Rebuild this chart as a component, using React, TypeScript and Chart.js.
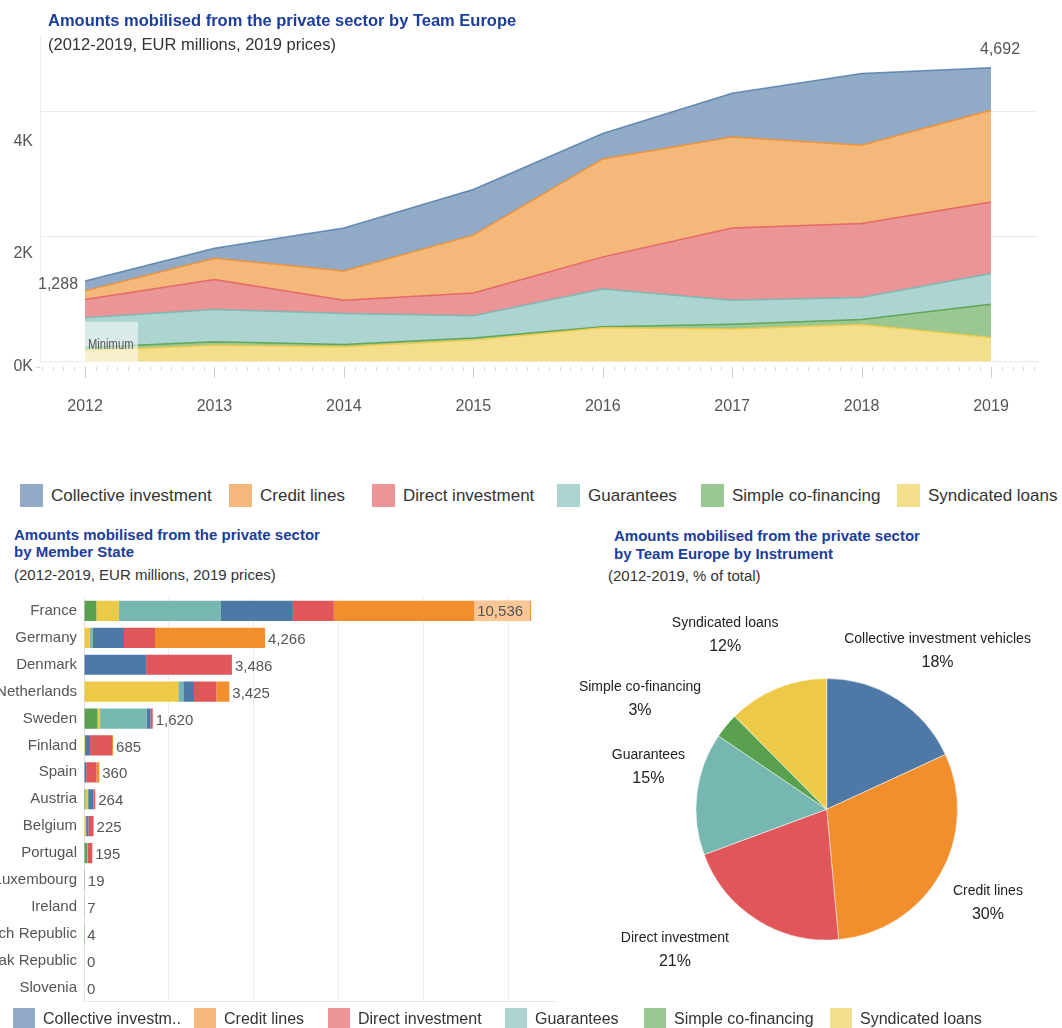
import React, { useEffect, useRef } from 'react';
import { Chart, registerables } from 'chart.js';

Chart.register(...registerables);

const FONT = '"Liberation Sans", Arial, Helvetica, sans-serif';
const TITLE_BLUE = '#1b3d9c';

// ---------- Area chart data (EUR millions) ----------
const years = [2012, 2013, 2014, 2015, 2016, 2017, 2018, 2019];
const syndicatedByYear = [175, 266, 239, 346, 542, 522, 596, 389];
const simpleByYear = [55, 53, 39, 32, 16, 79, 80, 531];
const guaranteesByYear = [472, 517, 494, 356, 602, 383, 351, 490];
const directByYear = [293, 478, 212, 366, 515, 1153, 1180, 1142];
const creditByYear = [137, 340, 467, 921, 1563, 1452, 1249, 1462];
const collectiveByYear = [156, 159, 686, 729, 405, 696, 1144, 678];
const areaYTicks = [0, 2000, 4000];

// ---------- Bar chart data (EUR millions) ----------
const countries = ['France', 'Germany', 'Denmark', 'Netherlands', 'Sweden', 'Finland', 'Spain', 'Austria', 'Belgium', 'Portugal', 'Luxembourg', 'Ireland', 'Czech Republic', 'Slovak Republic', 'Slovenia'];
const barSimple = [292, 0, 0, 0, 320, 0, 0, 35, 0, 70, 0, 7, 4, 0, 0];
const barSyndicated = [530, 143, 0, 2222, 59, 25, 0, 63, 50, 0, 0, 0, 0, 0, 0];
const barGuarantees = [2406, 67, 0, 118, 1098, 0, 0, 0, 0, 20, 0, 0, 0, 0, 0];
const barCollective = [1694, 732, 1464, 252, 93, 118, 50, 126, 59, 0, 19, 0, 0, 0, 0];
const barDirect = [966, 732, 2022, 530, 50, 517, 243, 40, 116, 105, 0, 0, 0, 0, 0];
const barCredit = [4648, 2592, 0, 303, 0, 25, 67, 0, 0, 0, 0, 0, 0, 0, 0];
const barGridTicks = [0, 2000, 4000, 6000, 8000, 10000];

// ---------- Pie chart data (% of total) ----------
const pieLabels = ['Collective investment vehicles', 'Credit lines', 'Direct investment', 'Guarantees', 'Simple co-financing', 'Syndicated loans'];
const pieShares = [18.1, 30.4, 20.8, 15.1, 3.1, 12.4];

// ---------- Legends ----------
const legendNames = ['Collective investment', 'Credit lines', 'Direct investment', 'Guarantees', 'Simple co-financing', 'Syndicated loans'];
const bottomLegendNames = ['Collective investm..', 'Credit lines', 'Direct investment', 'Guarantees', 'Simple co-financing', 'Syndicated loans'];
const legendKeys = ['collective', 'credit', 'direct', 'guarantees', 'simple', 'syndicated'];

const BASE: Record<string, string> = {
  collective: '#4E79A7', credit: '#F28E2B', direct: '#E15759',
  guarantees: '#76B7B2', simple: '#59A14F', syndicated: '#EDC948',
};
const LIGHT: Record<string, string> = {
  collective: '#91AAC7', credit: '#F5B87B', direct: '#EB9597',
  guarantees: '#ACD4D1', simple: '#9BC793', syndicated: '#F3DE8C',
};
const LINE: Record<string, string> = {
  collective: 'rgba(78,121,167,0.8)', credit: 'rgba(242,142,43,0.9)', direct: 'rgba(225,87,89,0.8)',
  guarantees: 'rgba(118,183,178,0.9)', simple: 'rgba(89,161,79,0.9)', syndicated: 'rgba(237,201,72,0.9)',
};

const fmt = (v: number) => v.toLocaleString('en-US');

function AreaChart() {
  const ref = useRef<HTMLCanvasElement>(null);
  useEffect(() => {
    const series = [
      { label: 'Syndicated loans', data: syndicatedByYear, key: 'syndicated' },
      { label: 'Simple co-financing', data: simpleByYear, key: 'simple' },
      { label: 'Guarantees', data: guaranteesByYear, key: 'guarantees' },
      { label: 'Direct investment', data: directByYear, key: 'direct' },
      { label: 'Credit lines', data: creditByYear, key: 'credit' },
      { label: 'Collective investment', data: collectiveByYear, key: 'collective' },
    ];
    const totals = years.map((_, i) => series.reduce((s, d) => s + d.data[i], 0));
    const decor = {
      id: 'areaDecor',
      afterDatasetsDraw(chart: any) {
        const { ctx, scales: { x, y } } = chart;
        ctx.save();
        const minIdx = totals.indexOf(Math.min(...totals));
        const bx = x.getPixelForValue(years[minIdx]);
        const base = y.getPixelForValue(0);
        ctx.fillStyle = 'rgba(255,255,255,0.55)';
        ctx.fillRect(bx, base - 40, 53, 40);
        ctx.save();
        ctx.translate(bx + 3, base - 17);
        ctx.scale(0.8, 1);
        ctx.font = `14px ${FONT}`;
        ctx.fillStyle = '#555';
        ctx.textBaseline = 'middle';
        ctx.textAlign = 'left';
        ctx.fillText('Minimum', 0, 0);
        ctx.restore();

        ctx.font = `16px ${FONT}`;
        ctx.fillStyle = '#555';
        ctx.textBaseline = 'middle';
        ctx.textAlign = 'right';
        ctx.fillText(fmt(totals[0]), x.getPixelForValue(years[0]) - 7, y.getPixelForValue(totals[0]) + 3);
        const last = years.length - 1;
        ctx.textAlign = 'center';
        ctx.fillText(fmt(totals[last]), x.getPixelForValue(years[last]) + 9, y.getPixelForValue(totals[last]) - 18);
        ctx.restore();
      },
      afterDraw(chart: any) {
        const { ctx, chartArea, scales: { x, y } } = chart;
        ctx.save();
        const base = y.getPixelForValue(0);
        ctx.font = `16px ${FONT}`;
        ctx.fillStyle = '#555';
        ctx.textAlign = 'right';
        ctx.textBaseline = 'middle';
        areaYTicks.forEach((v) => {
          ctx.fillText(`${v / 1000}K`, chartArea.left - 7, y.getPixelForValue(v) + 5 + v * 0.00625);
        });
        ctx.strokeStyle = '#cfcfcf';
        ctx.lineWidth = 1;
        ctx.beginPath();
        ctx.moveTo(chartArea.left - 4, base + 5.5);
        ctx.lineTo(chartArea.left, base + 5.5);
        ctx.stroke();
        const start = years[0] - 4 / 12;
        const end = years[years.length - 1] + 4 / 12 + 1e-6;
        for (let m = 0; start + m / 12 <= end; m++) {
          const v = start + m / 12;
          const px = Math.round(x.getPixelForValue(v)) + 0.5;
          const major = Math.abs(v - Math.round(v)) < 1e-6;
          ctx.strokeStyle = major ? '#cccccc' : '#d9d9d9';
          ctx.beginPath();
          ctx.moveTo(px, base + 5);
          ctx.lineTo(px, base + (major ? 16 : 9));
          ctx.stroke();
        }
        ctx.restore();
      },
    };
    const chart = new Chart(ref.current as HTMLCanvasElement, {
      type: 'line',
      data: {
        datasets: series.map((s, i) => ({
          label: s.label,
          data: years.map((yr, j) => ({ x: yr, y: s.data[j] })),
          fill: i === 0 ? 'origin' : '-1',
          backgroundColor: LIGHT[s.key],
          borderColor: LINE[s.key],
          borderWidth: 1.5,
          pointRadius: 0,
          tension: 0,
        })),
      },
      options: {
        responsive: false,
        animation: false,
        layout: { padding: { left: 40, right: 24, top: 36, bottom: 0 } },
        plugins: { legend: { display: false }, tooltip: { enabled: false } },
        scales: {
          x: {
            type: 'linear',
            min: 2011.652,
            max: 2019.363,
            afterBuildTicks: (ax: any) => { ax.ticks = years.map((v) => ({ value: v })); },
            ticks: {
              callback: (v: any) => String(v),
              font: { family: FONT, size: 16 },
              color: '#555',
              padding: 35,
              maxRotation: 0,
              autoSkip: false,
            },
            grid: { display: false, drawTicks: false },
            border: { display: false },
          },
          y: {
            stacked: true,
            min: 0,
            max: 5200,
            afterBuildTicks: (ax: any) => { ax.ticks = areaYTicks.map((v) => ({ value: v })); },
            ticks: { display: false },
            grid: { color: '#ebebeb', drawTicks: false },
            border: { display: true, color: '#eeeeee' },
          },
        },
      } as any,
      plugins: [decor],
    });
    return () => chart.destroy();
  }, []);
  return <canvas ref={ref} width={1062} height={451} style={{ position: 'absolute', left: 0, top: 0 }} />;
}

function BarChart() {
  const ref = useRef<HTMLCanvasElement>(null);
  useEffect(() => {
    const series = [
      { label: 'Simple co-financing', data: barSimple, key: 'simple' },
      { label: 'Syndicated loans', data: barSyndicated, key: 'syndicated' },
      { label: 'Guarantees', data: barGuarantees, key: 'guarantees' },
      { label: 'Collective investment', data: barCollective, key: 'collective' },
      { label: 'Direct investment', data: barDirect, key: 'direct' },
      { label: 'Credit lines', data: barCredit, key: 'credit' },
    ];
    const totals = countries.map((_, i) => series.reduce((s, d) => s + d.data[i], 0));
    const labels = {
      id: 'barLabels',
      afterDatasetsDraw(chart: any) {
        const { ctx, chartArea, scales: { x, y } } = chart;
        const lastMeta = chart.getDatasetMeta(series.length - 1);
        ctx.save();
        ctx.font = `15px ${FONT}`;
        ctx.textBaseline = 'middle';
        totals.forEach((t, i) => {
          const xe = x.getPixelForValue(t);
          const yc = y.getPixelForValue(i);
          const txt = fmt(t);
          const w = ctx.measureText(txt).width;
          if (xe + 3 + w > chartArea.right) {
            const h = lastMeta.data[i].height;
            ctx.fillStyle = '#F9C795';
            ctx.fillRect(xe - w - 11, yc - h / 2, w + 10, h);
            ctx.fillStyle = '#555';
            ctx.textAlign = 'right';
            ctx.fillText(txt, xe - 8, yc + 1);
          } else {
            ctx.fillStyle = '#555';
            ctx.textAlign = 'left';
            ctx.fillText(txt, xe + 3, yc + 2);
          }
        });
        ctx.restore();
      },
    };
    const chart = new Chart(ref.current as HTMLCanvasElement, {
      type: 'bar',
      data: {
        labels: countries,
        datasets: series.map((s) => ({
          label: s.label,
          data: s.data,
          backgroundColor: BASE[s.key],
          borderWidth: 0,
          barPercentage: 0.75,
          categoryPercentage: 1,
        })),
      },
      options: {
        indexAxis: 'y',
        responsive: false,
        animation: false,
        layout: { padding: { left: 0, right: 5, top: 7.5, bottom: 9 } },
        plugins: { legend: { display: false }, tooltip: { enabled: false } },
        scales: {
          x: {
            stacked: true,
            min: 0,
            max: 11100,
            afterBuildTicks: (ax: any) => { ax.ticks = barGridTicks.map((v) => ({ value: v })); },
            ticks: { display: false },
            grid: { color: '#ececec', drawTicks: false },
            border: { display: true, color: '#e8e8e8' },
            afterFit: (s: any) => { s.paddingLeft = 0; s.paddingRight = 0; },
          },
          y: {
            stacked: true,
            ticks: { font: { family: FONT, size: 15 }, color: '#555', padding: 7, autoSkip: false },
            grid: { display: false, drawTicks: false },
            border: { display: true, color: '#e0e0e0' },
            afterFit: (s: any) => { s.width = 84; s.paddingTop = 0; s.paddingBottom = 0; },
          },
        },
      } as any,
      plugins: [labels],
    });
    return () => chart.destroy();
  }, []);
  return <canvas ref={ref} width={560} height={420} style={{ position: 'absolute', left: 0, top: 590 }} />;
}

function PieChart() {
  const ref = useRef<HTMLCanvasElement>(null);
  useEffect(() => {
    const colors = ['collective', 'credit', 'direct', 'guarantees', 'simple', 'syndicated'].map((k) => BASE[k]);
    const nudges = [[8, 2], [-4, -2], [-50, -21], [11, -20], [-40, 11], [-29, 2]];
    const total = pieShares.reduce((a, b) => a + b, 0);
    const pieText = {
      id: 'pieText',
      afterDatasetsDraw(chart: any) {
        const { ctx } = chart;
        const meta = chart.getDatasetMeta(0);
        ctx.save();
        ctx.textAlign = 'center';
        ctx.textBaseline = 'middle';
        ctx.fillStyle = '#222';
        meta.data.forEach((arc: any, i: number) => {
          const mid = (arc.startAngle + arc.endAngle) / 2;
          const d = arc.outerRadius + 60;
          const cx = arc.x + d * Math.cos(mid) + nudges[i][0];
          const cy = arc.y + d * Math.sin(mid) + nudges[i][1];
          ctx.font = `14px ${FONT}`;
          ctx.fillText(pieLabels[i], cx, cy - 11.5);
          ctx.font = `16px ${FONT}`;
          ctx.fillText(`${Math.round((pieShares[i] / total) * 100)}%`, cx, cy + 12);
        });
        ctx.restore();
      },
    };
    const chart = new Chart(ref.current as HTMLCanvasElement, {
      type: 'pie',
      data: {
        labels: pieLabels,
        datasets: [{ data: pieShares, backgroundColor: colors, borderColor: '#ffffff', borderWidth: 0.5 }],
      },
      options: {
        responsive: false,
        animation: false,
        layout: { padding: { left: 135.7, top: 88.3, right: 104.3, bottom: 49.7 } },
        plugins: { legend: { display: false }, tooltip: { enabled: false } },
      } as any,
      plugins: [pieText],
    });
    return () => chart.destroy();
  }, []);
  return <canvas ref={ref} width={502} height={400} style={{ position: 'absolute', left: 560, top: 590 }} />;
}

function Txt(props: { x: number; y: number; size: number; bold?: boolean; color?: string; children: React.ReactNode }) {
  return (
    <div
      style={{
        position: 'absolute',
        left: props.x,
        top: props.y,
        transform: 'translateY(-50%)',
        fontFamily: FONT,
        fontSize: props.size,
        fontWeight: props.bold ? 700 : 400,
        color: props.color || '#333',
        lineHeight: 1.15,
        whiteSpace: 'nowrap',
      }}
    >
      {props.children}
    </div>
  );
}

const topLegendX = [20, 229, 372, 557, 701, 897];
const bottomLegendX = [13, 194, 328, 505, 644, 830];

export default function App() {
  return (
    <div style={{ position: 'absolute', left: 0, top: 0, width: 1062, height: 1028, overflow: 'hidden', background: '#fff' }}>
      <AreaChart />
      <BarChart />
      <PieChart />

      <Txt x={48} y={20} size={16.5} bold color={TITLE_BLUE}>Amounts mobilised from the private sector by Team Europe</Txt>
      <Txt x={48} y={44} size={16.5}>(2012-2019, EUR millions, 2019 prices)</Txt>

      {legendNames.map((n, i) => (
        <React.Fragment key={n}>
          <div style={{ position: 'absolute', left: topLegendX[i], top: 484, width: 23, height: 23, background: LIGHT[legendKeys[i]] }} />
          <Txt x={topLegendX[i] + 31} y={496} size={17}>{n}</Txt>
        </React.Fragment>
      ))}

      <Txt x={14} y={535} size={15} bold color={TITLE_BLUE}>Amounts mobilised from the private sector</Txt>
      <Txt x={14} y={552} size={15} bold color={TITLE_BLUE}>by Member State</Txt>
      <Txt x={14} y={575} size={15}>(2012-2019, EUR millions, 2019 prices)</Txt>

      <Txt x={614} y={536} size={15} bold color={TITLE_BLUE}>Amounts mobilised from the private sector</Txt>
      <Txt x={614} y={554} size={15} bold color={TITLE_BLUE}>by Team Europe by Instrument</Txt>
      <Txt x={608} y={576} size={15}>(2012-2019, % of total)</Txt>

      {bottomLegendNames.map((n, i) => (
        <React.Fragment key={n}>
          <div style={{ position: 'absolute', left: bottomLegendX[i], top: 1008, width: 22, height: 22, background: LIGHT[legendKeys[i]] }} />
          <Txt x={bottomLegendX[i] + 30} y={1019} size={16}>{n}</Txt>
        </React.Fragment>
      ))}
    </div>
  );
}
